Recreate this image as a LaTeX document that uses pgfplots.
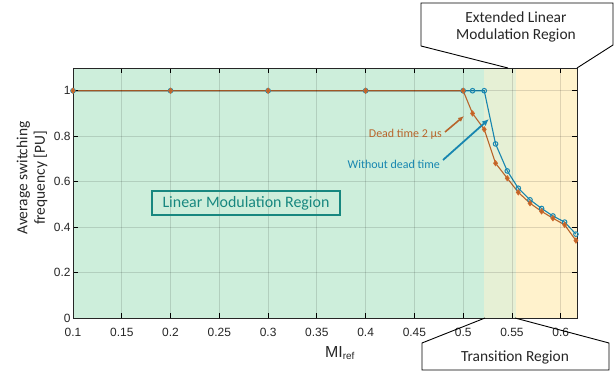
\documentclass[border=0pt]{standalone}
\usepackage{pgfplots}
\pgfplotsset{compat=1.18}
\usepackage{fontspec}
\setmainfont{Carlito}
\newfontfamily\arialf{Liberation Sans}
\usetikzlibrary{arrows.meta}
\definecolor{bggreen}{HTML}{CDEEDB}
\definecolor{bgyellow}{HTML}{FFF2CC}
\definecolor{bgtrans}{HTML}{E6F0D5}
\definecolor{orline}{HTML}{B8652B}
\definecolor{ormark}{HTML}{D2692A}
\definecolor{blline}{HTML}{1786B0}
\definecolor{tealtxt}{HTML}{17877F}
\definecolor{tickgray}{HTML}{262626}
\begin{document}
\begin{tikzpicture}
\begin{axis}[
  at={(0,0)}, anchor=south west,
  scale only axis, width=504bp, height=250bp,
  axis on top,
  xmin=0.1, xmax=0.6167, ymin=0, ymax=1.1,
  xtick={0.1,0.15,0.2,0.25,0.3,0.35,0.4,0.45,0.5,0.55,0.6},
  xticklabels={0.1,0.15,0.2,0.25,0.3,0.35,0.4,0.45,0.5,0.55,0.6},
  ytick={0,0.2,0.4,0.6,0.8,1},
  yticklabels={0,0.2,0.4,0.6,0.8,1},
  tick align=inside,
  major tick length=5bp,
  every tick/.style={black, line width=0.8pt},
  axis line style={black!85, line width=0.9pt},
  grid=major,
  major grid style={black, opacity=0.13, line width=0.8pt},
  ticklabel style={font=\arialf\fontsize{12}{12}\selectfont, text=tickgray},
  xticklabel style={yshift=-7bp},
  yticklabel style={xshift=1bp},
  /pgf/number format/assume math mode=true,
  clip=false,
]
\fill[bggreen] (axis cs:0.1,0) rectangle (axis cs:0.5216,1.1);
\fill[bgtrans] (axis cs:0.5216,0) rectangle (axis cs:0.5538,1.1);
\fill[bgyellow] (axis cs:0.5538,0) rectangle (axis cs:0.6167,1.1);
\addplot[blline, line width=1.1pt, mark=o, mark size=2.3pt, mark options={line width=1pt}]
coordinates {(0.1,1) (0.2,1) (0.3,1) (0.4,1) (0.5,1) (0.5096,1) (0.5216,1) (0.5332,0.766) (0.5452,0.647) (0.5565,0.571) (0.5685,0.520) (0.5804,0.482) (0.592,0.449) (0.604,0.422) (0.6156,0.369)};
\addplot[orline, line width=1.1pt, mark=diamond*, mark size=2.6pt, mark options={draw=ormark, fill=orline, line width=0.8pt}]
coordinates {(0.1,1) (0.2,1) (0.3,1) (0.4,1) (0.5,1) (0.5096,0.900) (0.5216,0.830) (0.5332,0.681) (0.5452,0.615) (0.5565,0.553) (0.5685,0.505) (0.5804,0.469) (0.592,0.439) (0.604,0.410) (0.6156,0.341)};
\end{axis}
\begin{scope}[x=1bp,y=1bp]
\path[use as bounding box] (-73,-54) rectangle (543,318);
% y label and x label
\node[rotate=90, align=center, font=\fontsize{15.5}{17.5}\selectfont, text=tickgray] at (-41,140) {Average switching\\frequency [PU]};
\node[font=\arialf\fontsize{16}{16}\selectfont, text=tickgray] at (267,-35) {MI\textsubscript{\fontsize{10}{10}\selectfont ref}};
% Linear Modulation Region box
\node[draw=tealtxt, line width=1.1pt, text=tealtxt, font=\fontsize{16}{16}\selectfont, minimum width=188bp, minimum height=24bp, inner sep=0pt] at (173,115) {Linear Modulation Region};
% annotations
\node[anchor=east, text=orline, font=\fontsize{12}{12}\selectfont, inner sep=0pt] at (369,184) {Dead time 2 µs};
\draw[-{Latex[length=6bp,width=5bp]}, orline, line width=1.6pt] (372,186) -- (391,202);
\node[anchor=east, text=blline, font=\fontsize{12}{12}\selectfont, inner sep=0pt] at (367,154) {Without dead time};
\draw[-{Latex[length=7bp,width=6bp]}, blline, line width=1.8pt] (370,158) -- (416,199);
% top callout
\draw[black, line width=0.9pt] (348,272) -- (348,315) -- (540,315) -- (540,273) -- (504,250);
\draw[black, line width=0.9pt] (348,272) -- (435,250);
\node[align=center, font=\fontsize{15.5}{17.5}\selectfont, text=tickgray] at (443,291) {Extended Linear\\Modulation Region};
% bottom callout
\draw[black, line width=0.9pt] (412,0) -- (349,-25) -- (349,-52) -- (536,-52) -- (536,-25) -- (442,0);
\node[font=\fontsize{15.5}{15.5}\selectfont, text=tickgray] at (442,-39) {Transition Region};
\end{scope}
\end{tikzpicture}
\end{document}
